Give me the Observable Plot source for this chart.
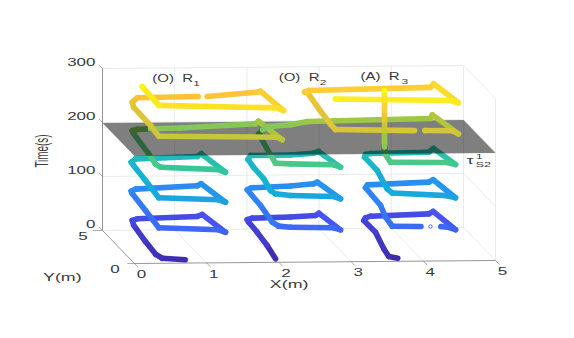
<!DOCTYPE html>
<html>
<head>
<meta charset="utf-8">
<script src="https://cdn.jsdelivr.net/npm/d3@7"></script>
<script src="https://cdn.jsdelivr.net/npm/@observablehq/plot@0.6"></script>
<style>html,body{margin:0;padding:0;background:#fff}</style>
</head>
<body>
<div id="chart"></div>
<script>
// Trajectory samples: [X (m), Y (m), Time (s)]. Gaps in the lines split a robot into two runs.
const r1a = [[.69,.4,6.7],[.37,.4,10],[.33,.9,10.3],[.3,2.05,18.3],[.29,3.6,26.8],[.288,3.8,33],[.358,3.8,36],[1.194,3.8,39],[1.263,3.8,42.5],[1.251,.4,56],[1.154,.4,60.6],[.322,.4,65.4],[.3,2.05,74.7],[.288,3.8,82],[.274,3.8,86.3],[.334,3.8,89.9],[1.194,3.8,94.8],[1.249,3.8,98.4],[1.251,.4,110.6],[1.154,.4,115.1],[.322,.4,120],[.3,2.05,129.3],[.3,3.73,134],[.274,3.8,139],[.334,3.8,145],[1.194,3.8,148],[1.249,3.8,153],[1.251,.4,165],[1.154,.4,170],[.346,.4,175.6],[.3,.63,178],[.3,1.62,184],[.3,3.73,192],[.288,3.8,196.7],[.358,3.8,198.5],[.543,3.8,199.4],[.961,3.8,200.2],[2.006,3.8,206.4],[2.047,3.8,211],[2.041,.4,222.9],[1.971,.4,227.7],[.322,.4,232],[.3,1.34,238.8],[.3,3.7,240],[.288,3.8,248],[.358,3.8,256],[1.205,3.8,257]];
const r1b = [[1.33,3.8,257],[2.03,3.8,263.8],[2.075,3.8,265.5],[2.059,.4,276],[1.971,.4,281],[.322,.4,288],[.3,2.5,294]];
const r2a = [[1.948,.4,6.7],[1.912,1.21,20],[1.912,2.62,25],[1.912,3.8,27.6],[1.89,3.8,32],[1.96,3.8,34.8],[2.494,3.8,36.2],[2.841,3.8,38.4],[2.887,3.8,42.5],[2.853,.4,58],[2.755,.4,62],[2.157,.4,63.8],[1.99,.4,66],[1.9,.38,73.6],[1.9,2.03,81.8],[1.89,3.8,86.5],[1.95,3.8,90],[2.494,3.8,92.5],[2.813,3.8,96],[2.865,3.8,99],[2.853,.4,114.5],[2.76,.4,118.8],[2.157,.4,121.5],[1.948,.4,124.9],[1.9,.62,128],[1.9,1.6,136.6],[1.9,3,138],[1.9,3.8,141.6],[1.936,3.8,148.8],[2.494,3.8,149],[2.813,3.8,151.7],[2.883,3.8,154.7],[2.853,.4,172],[2.755,.4,176.4],[2.157,.4,179],[1.948,.4,180.5],[1.987,1.5,181],[2.05,3.8,188],[2.103,3.8,195],[2.169,3.8,201],[2.494,3.8,204],[2.73,3.8,209.5],[4.443,3.8,212.5],[4.467,3.8,219],[4.496,.4,230],[4.41,.4,236],[4.03,.4,237]];
const r2b = [[3.884,.4,237],[2.783,.4,240.5],[2.78,1.07,241],[2.78,2.72,247],[2.726,3.8,262.8],[2.688,3.8,263],[2.744,3.8,265.8],[4.443,3.8,269],[4.485,3.8,275.5],[4.496,.4,286.6],[4.385,.4,291],[2.783,.4,296]];
const r3a = [[3.651,.4,5.3],[3.526,.4,8.6],[3.515,1,14.5],[3.548,2.5,24.5],[3.514,3.8,28.3],[3.538,3.8,33],[3.607,3.8,36],[4.419,3.8,39],[4.48,3.8,43.3],[4.455,.4,56],[4.339,.4,60.7],[4.253,.4,62]];
const r3b = [[3.974,.4,62.4],[3.573,.4,63.6],[3.549,.4,68],[3.55,1.11,70.5],[3.55,1.8,82.5],[3.538,3.8,87.8],[3.565,3.8,93],[4.415,3.8,96.7],[4.48,3.8,101],[4.455,.4,114],[4.339,.4,118],[3.573,.4,124],[3.562,1,123.5],[3.572,2.5,136.6],[3.524,3.8,143.4],[3.538,3.8,148.3],[3.607,3.8,150],[4.415,3.8,151],[4.485,3.8,157.8],[4.455,.4,174.5],[4.339,.4,178.3],[3.549,.4,180],[3.539,1,185.9],[3.525,1,196.3],[3.525,1,199.4],[3.525,1,207.7],[3.525,1,229],[3.525,1,248],[3.525,1,266],[3.525,1,284],[3.525,1,302]];
const ringPoint = [[4.106,.4,62.3]];

const xTicks = [0,1,2,3,4,5];
const yTicks = [0,5];
const timeTicks = [0,100,200,300];
const planeTime = 199;
const annotations = [
  {main:"(O)  R", sub:"1", X:.69, T:280},
  {main:"(O)  R", sub:"2", X:2.44, T:280},
  {main:"(A)  R", sub:"3", X:3.573, T:280}
];
const parula = ["#3e26a8","#4752f4","#2e87f7","#12b1d6","#37c897","#abc739","#fec338","#f9fb14"];

// Oblique 3D view of the box and of the trajectories.
const boxX = (X,Y) => 134 + 72.2*X - 6.4*Y;
const boxY = (X,Y,T) => 263 - 0.6*X - 6.6*Y - 0.54*T;
const pathX = (X,Y) => 138 + 71.8*X - 7.1*Y;
const pathY = (X,Y,T) => 266.5 - 0.8*X - 7.4*Y - 0.55*T;
const boxPt = (X,Y,T,extra={}) => ({px:boxX(X,Y), py:boxY(X,Y,T), ...extra});

const seg = (a,b) => ({x1:boxX(a[0],a[1]), y1:boxY(a[0],a[1],a[2]), x2:boxX(b[0],b[1]), y2:boxY(b[0],b[1],b[2])});

const grid = [
  ...xTicks.slice(1).map(X => seg([X,5,0],[X,5,300])),
  ...xTicks.slice(1,-1).map(X => seg([X,0,0],[X,5,0])),
  ...timeTicks.map(T => seg([0,5,T],[5,5,T])),
  ...timeTicks.slice(1).concat(0).map(T => seg([5,5,T],[5,0,T])),
  seg([5,0,0],[5,0,300])
];
const axes = [seg([0,0,0],[5,0,0]), seg([0,0,0],[0,5,0]), seg([0,5,0],[0,5,300])];
const ticks = [
  ...xTicks.map(X => seg([X,0,0],[X,-.6,0])),
  ...timeTicks.map(T => seg([0,5,T],[0,5.55,T])),
  seg([0,5,0],[-.13,5,0]), seg([0,0,0],[-.1,0,0])
];
const plane = [[0,0],[5,0],[5,5],[0,5]].map(([X,Y]) => boxPt(X,Y,planeTime));

// Split each run where it rises through the grey plane (T about 199.5).
const split = 199.5;
const runs = [r1a,r1b,r2a,r2b,r3a,r3b];
const lower = [], upper = [];
runs.forEach((run,id) => {
  let k = -1;
  run.forEach((p,i) => { if (p[2] <= split) k = i; });
  run.forEach((p,i) => {
    const row = {id, T:p[2], px:pathX(p[0],p[1]), py:pathY(p[0],p[1],p[2])};
    if (i <= k) lower.push(row);
    if (i >= k && k < run.length-1) upper.push(row);
  });
});

const txt = {fill:"#3a3a3a", fontFamily:"Liberation Sans, Arial, sans-serif", fontSize:10};
const trail = (rows,w) => Plot.line(rows,{x:"px",y:"py",z:"id",stroke:"T",strokeWidth:w,strokeLinecap:"round",strokeLinejoin:"round"});

const chart = Plot.plot({
  width:574, height:338, margin:0,
  x:{domain:[0,574], range:[0,574], axis:null},
  y:{domain:[0,338], range:[0,338], axis:null},
  color:{type:"linear", domain:[0,300], interpolate:d3.piecewise(d3.interpolateRgb, parula), clamp:true},
  marks:[
    Plot.link(grid,{x1:"x1",y1:"y1",x2:"x2",y2:"y2",stroke:"#e4e4e4",strokeWidth:.8}),
    Plot.link(axes,{x1:"x1",y1:"y1",x2:"x2",y2:"y2",stroke:"#8a8a8a",strokeWidth:.9}),
    Plot.link(ticks,{x1:"x1",y1:"y1",x2:"x2",y2:"y2",stroke:"#8a8a8a",strokeWidth:.7}),
    trail(lower,5.6),
    Plot.dot(ringPoint,{x:p=>pathX(p[0],p[1]),y:p=>pathY(p[0],p[1],p[2]),r:1.7,stroke:"#4a6af5",strokeWidth:1,fill:"none"}),
    Plot.line(plane,{x:"px",y:"py",fill:"#000",fillOpacity:.5,stroke:"none"}),
    trail(upper,5.6),
    Plot.text(xTicks,{x:X=>boxX(X,0)+7,y:X=>boxY(X,0,0)+11.5,text:d=>String(d),...txt}),
    Plot.text(yTicks,{x:Y=>boxX(0,Y)-19.5,y:Y=>boxY(0,Y,0)+6,text:d=>String(d),...txt}),
    Plot.text(timeTicks,{x:T=>boxX(0,5)-7,y:T=>boxY(0,5,T)-6,text:d=>String(d),textAnchor:"end",...txt}),
    Plot.text(annotations,{x:d=>boxX(d.X,5),y:d=>boxY(d.X,5,d.T),text:"main",textAnchor:"start",...txt}),
    Plot.text(annotations,{x:d=>boxX(d.X,5),y:d=>boxY(d.X,5,d.T),text:"sub",dx:41,dy:5,textAnchor:"start",...txt,fontSize:7}),
    Plot.text(["X(m)"],{x:()=>boxX(2.1,0)+3,y:()=>boxY(2.1,0,0)+22,text:d=>d,...txt,fontSize:10.5}),
    Plot.text(["Y(m)"],{x:()=>boxX(-1.0,0),y:()=>boxY(-1.0,0,0)+13.5,text:d=>d,...txt,fontSize:10.5}),
    Plot.text(["Time(s)"],{x:()=>boxX(-.84,5),y:()=>boxY(-.84,5,148),text:d=>d,rotate:-90,...txt,fontSize:19}),
    Plot.text(["\u03C4"],{x:()=>boxX(4.65,0),y:()=>boxY(4.65,0,185),text:d=>d,...txt,fontSize:10}),
    Plot.text(["1"],{x:()=>boxX(4.65,0),y:()=>boxY(4.65,0,185),text:d=>d,dx:9,dy:-4.5,...txt,fontSize:7}),
    Plot.text(["S2"],{x:()=>boxX(4.65,0),y:()=>boxY(4.65,0,185),text:d=>d,dx:13,dy:3.5,...txt,fontSize:7.5})
  ]
});
document.getElementById("chart").appendChild(chart);

// The reference's type is stretched sideways; keep it real text but widen it.
d3.select(chart).selectAll("text").each(function(){
  const s = this.textContent;
  if (!s) return;
  const len = this.getComputedTextLength();
  const target = s === "Time(s)" ? 33 : len * (s.includes("R") ? 1.5 : 1.7);
  this.setAttribute("textLength", target);
  this.setAttribute("lengthAdjust", "spacingAndGlyphs");
});
</script>
</body>
</html>
